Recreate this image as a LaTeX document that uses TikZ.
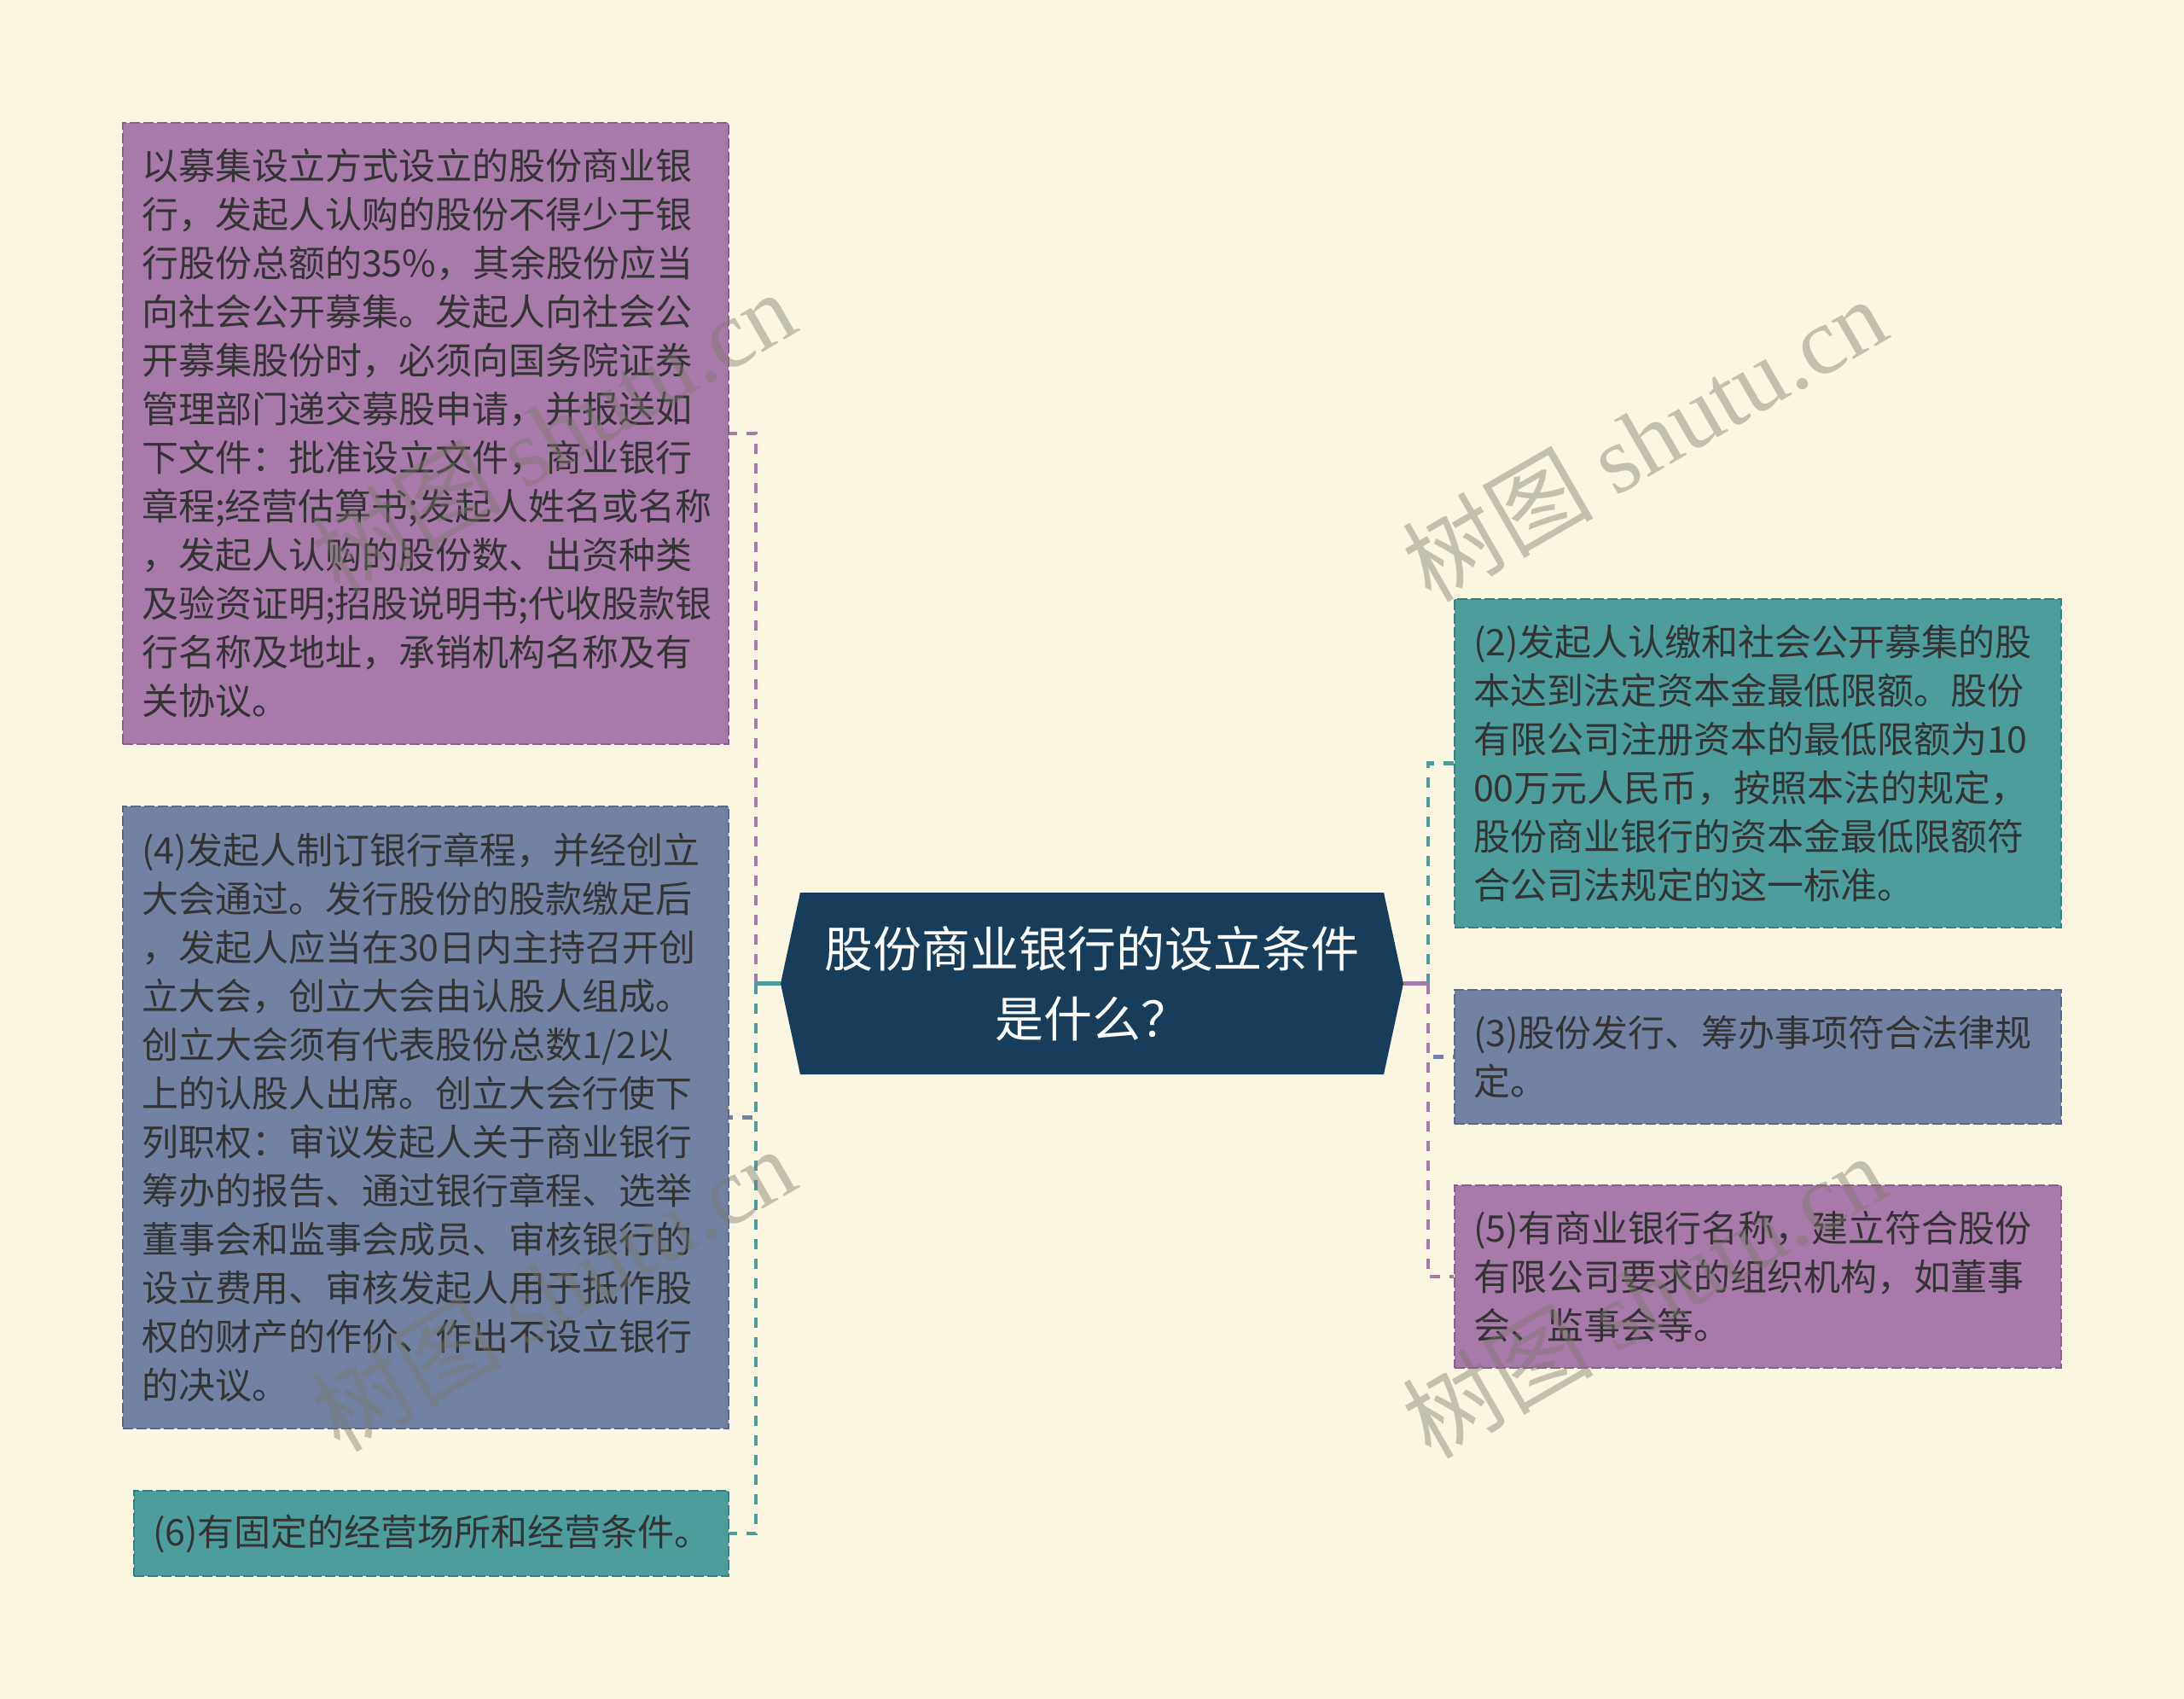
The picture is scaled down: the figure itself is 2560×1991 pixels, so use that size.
\documentclass[tikz,border=0pt]{standalone}
\usepackage{fontspec}
\newfontfamily\cjk{Noto Sans CJK SC}
\newfontfamily\wmserif{Liberation Serif}
\usetikzlibrary{calc}
\definecolor{bgc}{RGB}{250,246,226}
\definecolor{purp}{RGB}{168,122,170}
\definecolor{purpd}{RGB}{138,96,140}
\definecolor{bgray}{RGB}{115,129,162}
\definecolor{bgrayd}{RGB}{92,104,136}
\definecolor{tealc}{RGB}{77,157,157}
\definecolor{teald}{RGB}{56,128,128}
\definecolor{navy}{RGB}{23,61,91}
\definecolor{txt}{RGB}{51,51,51}
\definecolor{wmc}{RGB}{120,118,105}
\tikzset{
  box/.style={rectangle, inner xsep=11pt, inner ysep=0pt, align=left, text=txt,
    font=\cjk\fontsize{21.5pt}{28.5pt}\selectfont,
    preaction={draw=bgc, solid, line width=1pt},
    line width=1pt, dash pattern=on 6pt off 2pt},
  purpbox/.style={box, fill=purp, draw=purpd},
  graybox/.style={box, fill=bgray, draw=bgrayd},
  tealbox/.style={box, fill=tealc, draw=teald},
  rootnode/.style={rectangle, inner sep=0pt, align=center, text=white,
    minimum width=365pt, minimum height=106.5pt,
    font=\cjk\fontsize{28.5pt}{41pt}\selectfont},
  conn/.style={line width=2.3pt, dash pattern=on 6pt off 5.5pt},
  stub/.style={line width=2.3pt},
  wm/.style={text=wmc, text opacity=0.42, font=\cjk\fontsize{56pt}{56pt}\selectfont, inner sep=0pt}
}
\begin{document}
\begin{tikzpicture}[x=0.5pt, y=-0.5pt]
\useasboundingbox (0,0) rectangle (2560,1991);
\fill[bgc] (0,0) rectangle (2560,1991);

% central hexagon
\fill[navy] (938,1046) -- (1622,1046) -- (1645,1152.5) -- (1622,1259) -- (938,1259) -- (915,1152.5) -- cycle;
\node[rootnode] (root) at (1280,1152.5) {股份商业银行的设立条件\\是什么？};

% left boxes
\node[purpbox, minimum width=355pt, minimum height=364pt, text width=333pt] (b1) at (499,508) {以募集设立方式设立的股份商业银\\行，发起人认购的股份不得少于银\\行股份总额的35\%，其余股份应当\\向社会公开募集。发起人向社会公\\开募集股份时，必须向国务院证券\\管理部门递交募股申请，并报送如\\下文件：批准设立文件，商业银行\\章程;经营估算书;发起人姓名或名称\\，发起人认购的股份数、出资种类\\及验资证明;招股说明书;代收股款银\\行名称及地址，承销机构名称及有\\关协议。};

\node[graybox, minimum width=355pt, minimum height=364.5pt, text width=333pt] (b4) at (499,1309.5) {(4)发起人制订银行章程，并经创立\\大会通过。发行股份的股款缴足后\\，发起人应当在30日内主持召开创\\立大会，创立大会由认股人组成。\\创立大会须有代表股份总数1/2以\\上的认股人出席。创立大会行使下\\列职权：审议发起人关于商业银行\\筹办的报告、通过银行章程、选举\\董事会和监事会成员、审核银行的\\设立费用、审核发起人用于抵作股\\权的财产的作价、作出不设立银行\\的决议。};

\node[tealbox, minimum width=348.5pt, minimum height=50pt, text width=326.5pt] (b6) at (505.5,1797) {(6)有固定的经营场所和经营条件。};

% right boxes
\node[tealbox, minimum width=355.5pt, minimum height=192.5pt, text width=333.5pt] (b2) at (2060.5,894.5) {(2)发起人认缴和社会公开募集的股\\本达到法定资本金最低限额。股份\\有限公司注册资本的最低限额为10\\00万元人民币，按照本法的规定，\\股份商业银行的资本金最低限额符\\合公司法规定的这一标准。};

\node[graybox, minimum width=355.5pt, minimum height=78.5pt, text width=333.5pt] (b3) at (2060.5,1238.5) {(3)股份发行、筹办事项符合法律规\\定。};

\node[purpbox, minimum width=355.5pt, minimum height=107pt, text width=333.5pt] (b5) at (2060.5,1496) {(5)有商业银行名称，建立符合股份\\有限公司要求的组织机构，如董事\\会、监事会等。};

% connectors
\coordinate (lt) at (886,1152.5);
\coordinate (rt) at (1674,1152.5);
\draw[conn, purp] (lt) |- (b1.east);
\draw[conn, bgray] (lt) |- (b4.east);
\draw[conn, tealc] (lt) |- (b6.east);
\draw[stub, tealc] (root.west) -- (lt);
\draw[conn, tealc] (rt) |- (b2.west);
\draw[conn, bgray] (rt) |- (b3.west);
\draw[conn, purp] (rt) |- (b5.west);
\draw[stub, purp] (root.east) -- (rt);

% watermarks
\node[wm, rotate=30] (w1) at (648,506) {树图 {\wmserif shutu.cn}};
\node[wm, rotate=30] (w2) at (1927,514) {树图 {\wmserif shutu.cn}};
\node[wm, rotate=30] (w3) at (648,1510) {树图 {\wmserif shutu.cn}};
\node[wm, rotate=30] (w4) at (1927,1518) {树图 {\wmserif shutu.cn}};
\end{tikzpicture}
\end{document}
